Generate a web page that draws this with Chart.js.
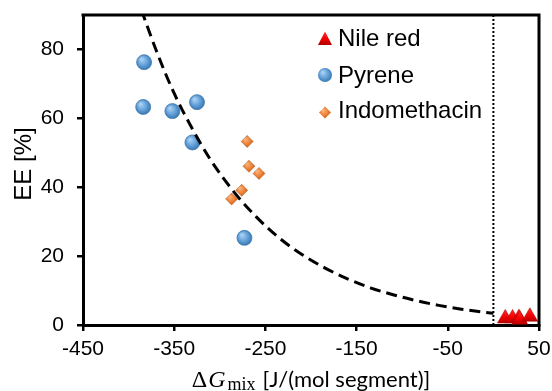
<!DOCTYPE html>
<html>
<head>
<meta charset="utf-8">
<script src="https://cdn.jsdelivr.net/npm/chart.js@4/dist/chart.umd.min.js"></script>
<style>
  html, body { margin: 0; padding: 0; background: #fff; }
  #wrap { width: 552px; height: 391px; }
</style>
</head>
<body>
<div id="wrap"><canvas id="chart" width="552" height="391"></canvas></div>
<script>
const xTicks = [-450, -350, -250, -150, -50, 50];
const yTicks = [0, 20, 40, 60, 80];

const nileRedX = [13, 21, 28, 29, 40];
const nileRedY = [1.9, 1.9, 2.0, 1.5, 2.4];
const pyreneX = [-383, -384, -352, -325, -330, -273];
const pyreneY = [76.3, 63.3, 62.1, 64.7, 53.0, 25.3];
const indoX = [-270, -268, -257, -276, -287];
const indoY = [53.3, 46.1, 44.0, 39.1, 36.6];

// trendline
const fitX = [-386, -370, -351, -330, -310, -285, -260, -235, -210, -185, -160, -135, -110, -85, -60, -35, -10, 0];
const fitY = [91.5, 79.9, 67.8, 56.9, 47.9, 38.8, 31.4, 25.3, 20.5, 16.6, 13.4, 10.8, 8.8, 7.1, 5.7, 4.6, 3.7, 3.4];

const dividerX = [0, 0];
const dividerY = [0, 90];

const seriesNames = ['Nile red', 'Pyrene', 'Indomethacin'];
const flat = { nile: '#f00000', pyrene: '#5b9bd5', indo: '#ed7d31' };

const SANS = "'Liberation Sans', Arial, sans-serif";
const SERIF = "'Liberation Serif', 'DejaVu Serif', serif";

function pts(xs, ys) {
  return xs.map((x, i) => ({ x, y: ys[i] }));
}

function ballFill(g, x, y, r, c0, c1, c2) {
  const grad = g.createRadialGradient(x - r * 0.35, y - r * 0.4, r * 0.1, x, y, r * 1.2);
  grad.addColorStop(0, c0);
  grad.addColorStop(0.55, c1);
  grad.addColorStop(1, c2);
  return grad;
}

function triFill(g, x, y, r) {
  const grad = g.createLinearGradient(x, y - r, x, y + r / 2);
  grad.addColorStop(0, '#ff2a2a');
  grad.addColorStop(0.6, '#f00000');
  grad.addColorStop(1, '#b80000');
  return grad;
}

function pointFill(kind) {
  return (c) => {
    if (c.type !== 'data' || !c.raw) return flat[kind];
    const chart = c.chart;
    const x = chart.scales.x.getPixelForValue(c.raw.x);
    const y = chart.scales.y.getPixelForValue(c.raw.y);
    if (!isFinite(x) || !isFinite(y)) return flat[kind];
    if (kind === 'pyrene') return ballFill(chart.ctx, x, y, 7.5, '#a9d0f2', '#5b9bd5', '#2e6aa3');
    if (kind === 'indo') return ballFill(chart.ctx, x, y, 6, '#f9b27a', '#ed7d31', '#b3561a');
    return triFill(chart.ctx, x, y, 9);
  };
}

const overlay = {
  id: 'overlay',
  afterDraw(chart) {
    const { ctx, chartArea: a } = chart;
    ctx.save();

    // top and right edges of the frame
    ctx.strokeStyle = '#000';
    ctx.lineWidth = 3;
    ctx.beginPath();
    ctx.moveTo(a.left - 1.5, a.top);
    ctx.lineTo(a.right, a.top);
    ctx.lineTo(a.right, a.bottom + 1.5);
    ctx.stroke();

    // legend inside the plot
    const lx = 325;
    const rows = [39, 75, 112.5];
    let y = rows[0];
    ctx.beginPath();
    ctx.moveTo(lx, y - 7.5);
    ctx.lineTo(lx + 7, y + 6);
    ctx.lineTo(lx - 7, y + 6);
    ctx.closePath();
    ctx.fillStyle = triFill(ctx, lx, y + 1, 8);
    ctx.fill();
    y = rows[1];
    ctx.beginPath();
    ctx.arc(lx, y, 7, 0, Math.PI * 2);
    ctx.fillStyle = ballFill(ctx, lx, y, 7, '#a9d0f2', '#5b9bd5', '#2e6aa3');
    ctx.fill();
    y = rows[2];
    ctx.beginPath();
    ctx.moveTo(lx, y - 6);
    ctx.lineTo(lx + 6, y);
    ctx.lineTo(lx, y + 6);
    ctx.lineTo(lx - 6, y);
    ctx.closePath();
    ctx.fillStyle = ballFill(ctx, lx, y, 6, '#f9b27a', '#ed7d31', '#b3561a');
    ctx.fill();

    ctx.fillStyle = '#000';
    ctx.font = '24px ' + SANS;
    ctx.textAlign = 'left';
    ctx.textBaseline = 'alphabetic';
    ctx.fillText(seriesNames[0], 338, 46);
    ctx.fillText(seriesNames[1], 338, 83);
    ctx.fillText(seriesNames[2], 338, 117.5);

    // y axis title
    ctx.save();
    ctx.translate(31, 164);
    ctx.rotate(-Math.PI / 2);
    ctx.textAlign = 'center';
    ctx.font = '24px ' + SANS;
    ctx.fillText('EE [%]', 0, 0);
    ctx.restore();

    // x axis title: ΔG_mix [J/(mol segment)], centred under the plot
    const parts = [
      { t: 'Δ', f: '24px ' + SERIF, dy: 0, gap: 1 },
      { t: 'G', f: 'italic 24px ' + SERIF, dy: 0, gap: 2 },
      { t: 'mix', f: '18px ' + SERIF, dy: 3, gap: 7 },
      { t: '[J/(mol segment)]', f: "22px Lato, 'Open Sans', sans-serif", dy: 0, gap: 0 },
    ];
    let total = 0;
    parts.forEach((p) => {
      ctx.font = p.f;
      p.w = ctx.measureText(p.t).width;
      total += p.w + p.gap;
    });
    let tx = (a.left + a.right) / 2 - total / 2;
    const base = 386.5;
    ctx.textAlign = 'left';
    parts.forEach((p) => {
      ctx.font = p.f;
      ctx.fillText(p.t, tx, base + p.dy);
      tx += p.w + p.gap;
    });

    ctx.restore();
  }
};

new Chart(document.getElementById('chart'), {
  type: 'scatter',
  data: {
    datasets: [
      {
        label: 'fit',
        data: pts(fitX, fitY),
        showLine: true,
        borderColor: '#000',
        borderWidth: 3,
        borderDash: [11, 6],
        pointRadius: 0,
        cubicInterpolationMode: 'monotone',
        clip: 0,
        order: 0,
      },
      {
        label: 'divider',
        data: pts(dividerX, dividerY),
        showLine: true,
        borderColor: '#000',
        borderWidth: 2,
        borderDash: [2, 2],
        pointRadius: 0,
        clip: 0,
        order: 1,
      },
      {
        label: seriesNames[0],
        data: pts(nileRedX, nileRedY),
        pointStyle: 'triangle',
        pointRadius: 9,
        backgroundColor: pointFill('nile'),
        borderColor: '#a00000',
        borderWidth: 0.5,
        order: 2,
      },
      {
        label: seriesNames[1],
        data: pts(pyreneX, pyreneY),
        pointStyle: 'circle',
        pointRadius: 7.5,
        backgroundColor: pointFill('pyrene'),
        borderColor: '#3f75a8',
        borderWidth: 0.75,
        order: 3,
      },
      {
        label: seriesNames[2],
        data: pts(indoX, indoY),
        pointStyle: 'rectRot',
        pointRadius: 6,
        backgroundColor: pointFill('indo'),
        borderColor: '#a85420',
        borderWidth: 0.5,
        order: 4,
      },
    ],
  },
  options: {
    responsive: false,
    animation: false,
    events: [],
    layout: { padding: { top: 15, right: 13, bottom: 0, left: 0 } },
    plugins: {
      legend: { display: false },
      tooltip: { enabled: false },
    },
    scales: {
      x: {
        type: 'linear',
        min: -450,
        max: 50,
        afterBuildTicks: (s) => { s.ticks = xTicks.map((v) => ({ value: v })); },
        afterFit: (s) => { s.height = 66; s.paddingLeft = 0; s.paddingRight = 0; },
        border: { color: '#000', width: 3 },
        grid: { drawOnChartArea: false, drawTicks: true, tickLength: 6, color: '#000', lineWidth: 2.5 },
        ticks: { color: '#000', padding: 6, maxRotation: 0, font: { family: SANS, size: 21 } },
      },
      y: {
        type: 'linear',
        min: 0,
        max: 90,
        afterBuildTicks: (s) => { s.ticks = yTicks.map((v) => ({ value: v })); },
        afterFit: (s) => { s.width = 83; s.paddingTop = 0; s.paddingBottom = 0; },
        border: { color: '#000', width: 3 },
        grid: { drawOnChartArea: false, drawTicks: true, tickLength: 6, color: '#000', lineWidth: 2.5 },
        ticks: { color: '#000', padding: 13, font: { family: SANS, size: 21 } },
      },
    },
  },
  plugins: [overlay],
});
</script>
</body>
</html>
